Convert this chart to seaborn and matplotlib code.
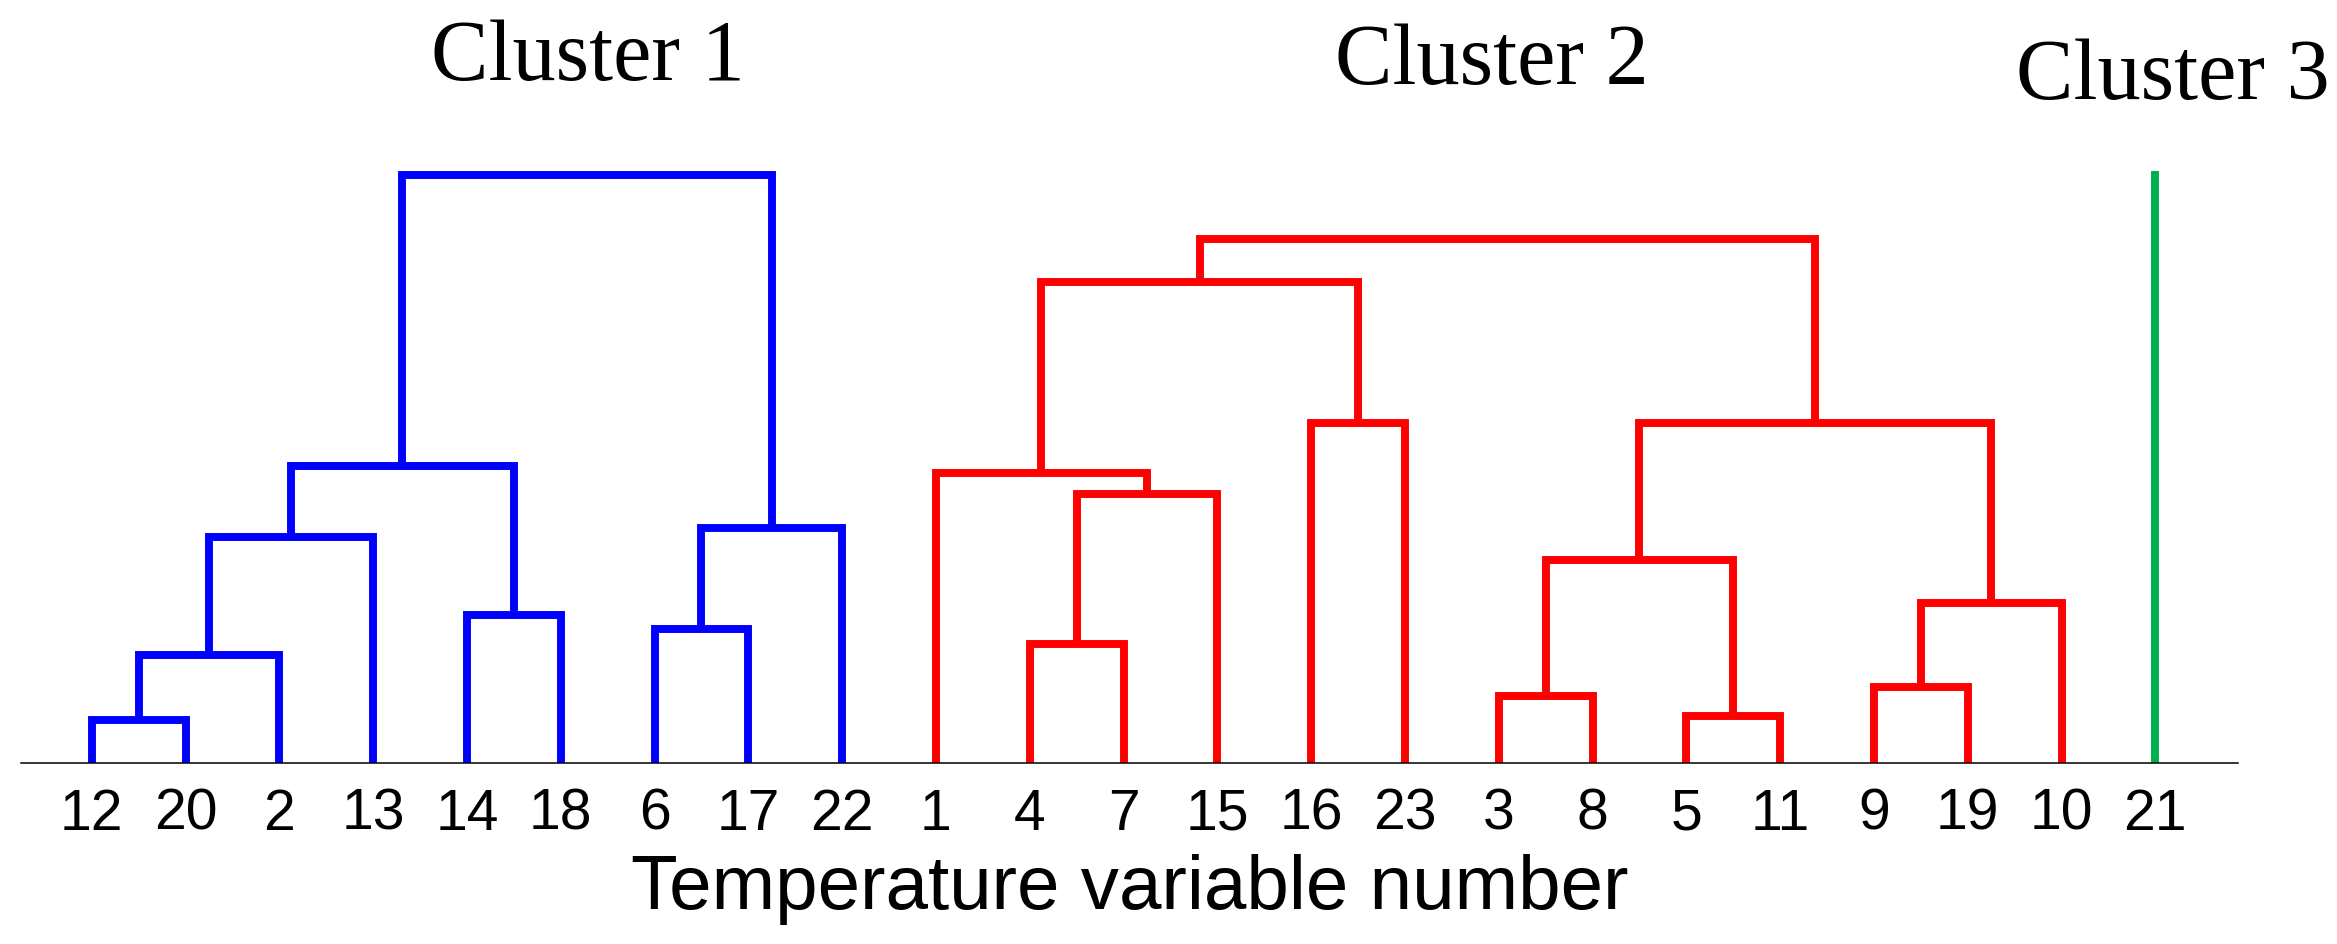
import matplotlib
matplotlib.use('Agg')
import pandas as pd
import matplotlib.pyplot as plt
import seaborn as sns

# leaf order along the x axis
leaf_labels = [12, 20, 2, 13, 14, 18, 6, 17, 22, 1, 4, 7, 15, 16, 23, 3, 8, 5, 11, 9, 19, 10, 21]

# merges: left child, right child, linkage height (children are leaves or earlier merges 'mN')
merge_left = ['12', 'm0', 'm1', '14', 'm2', '6', 'm5', 'm4',
              '4', 'm8', '1', '16', 'm10', '3', '5', 'm13', '9', 'm16', 'm15', 'm12']
merge_right = ['20', '2', '13', '18', 'm3', '17', '22', 'm6',
               '7', '15', 'm9', '23', 'm11', '8', '11', 'm14', '19', '10', 'm17', 'm18']
merge_height = [0.29, 0.73, 1.52, 1.00, 2.00, 0.90, 1.58, 3.96,
                0.80, 1.81, 1.95, 2.29, 3.24, 0.45, 0.32, 1.37, 0.51, 1.08, 2.29, 3.53]
merge_cluster = ['Cluster 1'] * 8 + ['Cluster 2'] * 12

# cluster 3 is a single variable
single_leaf = '21'
single_height = 3.99

cluster_names = ['Cluster 1', 'Cluster 2', 'Cluster 3']
cluster_colors = {'Cluster 1': '#0000FF', 'Cluster 2': '#FF0000', 'Cluster 3': '#00B050'}

# build the dendrogram segments
pos = {str(l): (i, 0.0) for i, l in enumerate(leaf_labels)}
rows = []
for k in range(len(merge_left)):
    xa, ya = pos[merge_left[k]]
    xb, yb = pos[merge_right[k]]
    h = merge_height[k]
    for j, (x, y) in enumerate([(xa, ya), (xa, h), (xb, h), (xb, yb)]):
        rows.append({'seg': k, 'order': j, 'x': x, 'y': y, 'cluster': merge_cluster[k]})
    pos['m%d' % k] = ((xa + xb) / 2, h)
x21 = pos[single_leaf][0]
rows.append({'seg': 99, 'order': 0, 'x': x21, 'y': 0.0, 'cluster': 'Cluster 3'})
rows.append({'seg': 99, 'order': 1, 'x': x21, 'y': single_height, 'cluster': 'Cluster 3'})
df = pd.DataFrame(rows)

sns.set_theme(style='white')
plt.rcParams['font.family'] = ['Liberation Sans', 'DejaVu Sans']

fig = plt.figure(figsize=(23.37, 9.45), dpi=100)
ax = fig.add_axes([0.009, 0.1915, 0.9486, 0.660])

sns.lineplot(data=df, x='x', y='y', units='seg', estimator=None, sort=False,
             hue='cluster', hue_order=cluster_names, palette=cluster_colors,
             linewidth=5.7, legend=False, ax=ax, solid_joinstyle='miter',
             solid_capstyle='butt')

ax.set_xlim(-0.754, 22.88)
ax.set_ylim(0, 4.2)
ax.set_xticks(range(len(leaf_labels)))
ax.set_xticklabels([str(l) for l in leaf_labels], fontsize=41)
ax.set_yticks([])
ax.tick_params(axis='x', length=0, pad=17, colors='black')
ax.set_xlabel('Temperature variable number', fontsize=55, labelpad=9, color='black')
ax.set_ylabel('')
sns.despine(ax=ax, left=True, top=True, right=True)
ax.spines['bottom'].set_color('black')
ax.spines['bottom'].set_linewidth(1.1)

title_x = [5.29, 14.93, 22.19]
title_y = [4.606, 4.58, 4.478]
for name, tx, ty in zip(cluster_names, title_x, title_y):
    ax.text(tx, ty, name, ha='center', va='baseline', fontsize=62,
            family=['Liberation Serif', 'DejaVu Serif'], color='black', clip_on=False)

fig.savefig('out.png', dpi=100)
